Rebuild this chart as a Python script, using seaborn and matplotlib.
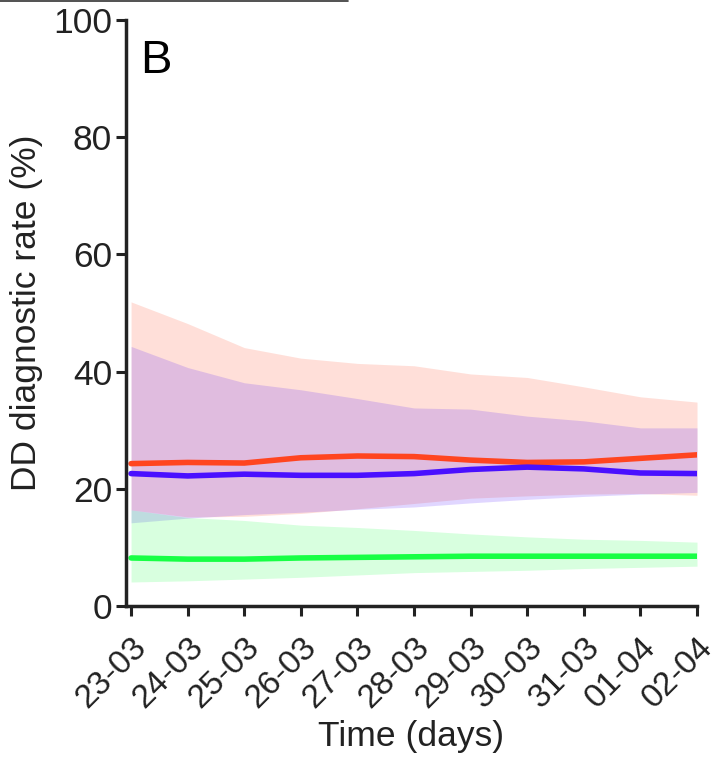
import matplotlib
matplotlib.use("Agg")
import matplotlib.pyplot as plt
from matplotlib.lines import Line2D
from matplotlib.transforms import ScaledTranslation
import seaborn as sns
import pandas as pd
import numpy as np

dates = ["23-03", "24-03", "25-03", "26-03", "27-03", "28-03",
         "29-03", "30-03", "31-03", "01-04", "02-04"]

red_mean = [24.3, 24.5, 24.4, 25.3, 25.6, 25.5, 24.9, 24.5, 24.6, 25.2, 25.8]
red_low = [16.4, 15.2, 15.3, 15.8, 16.6, 17.5, 18.4, 18.8, 19.1, 19.2, 18.9]
red_high = [51.9, 48.2, 44.1, 42.3, 41.4, 41.0, 39.6, 39.0, 37.4, 35.7, 34.8]

blue_mean = [22.6, 22.2, 22.5, 22.3, 22.3, 22.6, 23.3, 23.7, 23.4, 22.7, 22.6]
blue_low = [14.2, 15.0, 15.6, 16.0, 16.5, 16.9, 17.6, 18.2, 18.7, 19.1, 19.4]
blue_high = [44.3, 40.7, 38.1, 36.9, 35.4, 33.8, 33.6, 32.4, 31.6, 30.4, 30.4]

green_mean = [8.2, 8.0, 8.0, 8.2, 8.3, 8.4, 8.5, 8.5, 8.5, 8.5, 8.5]
green_low = [4.1, 4.3, 4.6, 4.9, 5.3, 5.7, 5.9, 6.1, 6.4, 6.6, 6.8]
green_high = [16.4, 15.1, 14.6, 13.8, 13.4, 12.9, 12.3, 11.8, 11.4, 11.2, 10.9]

RED = "#FF4520"
BLUE = "#4A10FF"
GREEN = "#18FF45"

sns.set_style("ticks")
plt.rcParams["font.family"] = ["Liberation Sans", "DejaVu Sans"]

FS = 25.5
TXT = "#222222"

fig = plt.figure(figsize=(7.19, 7.58), dpi=100)
ax = fig.add_axes([0.1752, 0.2005, 0.9694 - 0.1752, 0.9736 - 0.2005])

x = np.arange(len(dates))
series = [
    (red_mean, red_low, red_high, RED),
    (blue_mean, blue_low, blue_high, BLUE),
    (green_mean, green_low, green_high, GREEN),
]
for mean, low, high, col in series:
    ax.fill_between(x, low, high, color=col, alpha=0.17, linewidth=0)
for mean, low, high, col in series:
    df = pd.DataFrame({"x": x, "y": mean})
    sns.lineplot(data=df, x="x", y="y", color=col, linewidth=4.0, ax=ax)

ax.set_xlim(-0.09, 10)
ax.set_ylim(0, 100)
ax.set_yticks([0, 20, 40, 60, 80, 100])
ax.set_xticks(x)
ax.set_xticklabels(dates, rotation=45, ha="right", va="top",
                   rotation_mode="anchor")
ax.tick_params(axis="both", labelsize=FS, width=2.2, length=7,
               color=TXT, labelcolor=TXT, direction="out")
ax.tick_params(axis="x", pad=8, labelsize=24)
ax.tick_params(axis="y", pad=3)
offset = ScaledTranslation(0.0, -0.05, fig.dpi_scale_trans)
for lab in ax.get_xticklabels():
    lab.set_transform(lab.get_transform() + offset)
sns.despine(ax=ax)
for s in ["left", "bottom"]:
    ax.spines[s].set_linewidth(2.5)
    ax.spines[s].set_color(TXT)

ax.set_xlabel("Time (days)", fontsize=FS, color=TXT, labelpad=4)
ax.set_ylabel("DD diagnostic rate (%)", fontsize=FS, color=TXT,
              labelpad=7)
ax.text(0.024, 0.91, "B", transform=ax.transAxes, fontsize=34,
        va="baseline", ha="left", color="black")

fig.add_artist(Line2D([0, 348 / 719], [0.9993, 0.9993],
                      transform=fig.transFigure, color="#333333",
                      linewidth=1.2))

fig.savefig("out.png", dpi=100)
